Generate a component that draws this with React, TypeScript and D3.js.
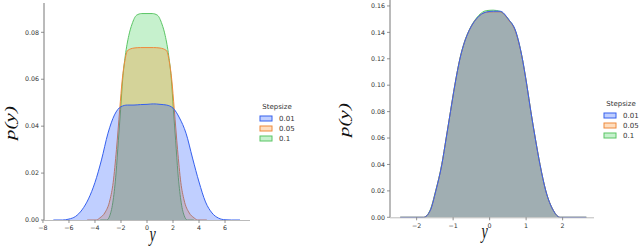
import React from "react";
import * as d3 from "d3";

// ---------- data ----------
const stepsizes = ["0.01", "0.05", "0.1"];
const colors = ["#023eff", "#ff7c00", "#1ac938"];
const strokeColors = ["#3560ee", "#ee8a3c", "#5bc565"];

// left panel
const leftX01 = [-7.2, -6.5, -6, -5.5, -5, -4.5, -4, -3.5, -3, -2.5, -2, -1.5, -1, -0.5, 0, 0.5, 1, 1.5, 2, 2.5, 3, 3.5, 4, 4.5, 5, 5.5, 6, 6.5, 7.15];
const leftY01 = [0, 0, 0.0004, 0.0015, 0.0043, 0.009, 0.016, 0.0256, 0.037, 0.0448, 0.0483, 0.049, 0.049, 0.0492, 0.0493, 0.0495, 0.0493, 0.049, 0.0477, 0.0435, 0.037, 0.0264, 0.0162, 0.0077, 0.003, 0.0008, 0.0001, 0, 0];
const leftX05 = [-4.6, -3.9, -3.6, -3.25, -2.85, -2.6, -2.35, -2.1, -1.9, -1.7, -1.5, -1.0, -0.5, 0, 0.5, 1.0, 1.5, 1.7, 1.9, 2.1, 2.35, 2.6, 2.85, 3.25, 3.6, 3.9, 4.6];
const leftY05 = [0, 0, 0.001, 0.003, 0.0085, 0.016, 0.03, 0.047, 0.06, 0.068, 0.0722, 0.0733, 0.0735, 0.0735, 0.0735, 0.0733, 0.0722, 0.068, 0.06, 0.047, 0.03, 0.016, 0.0085, 0.003, 0.001, 0, 0];
const leftX1 = [-3.6, -3.1, -2.85, -2.6, -2.38, -2.2, -2.03, -1.87, -1.67, -1.4, -1.15, -0.8, -0.4, 0, 0.4, 0.8, 1.15, 1.4, 1.67, 1.87, 2.03, 2.2, 2.38, 2.6, 2.85, 3.1, 3.6];
const leftY1 = [0, 0, 0.002, 0.0085, 0.02, 0.034, 0.047, 0.06, 0.07, 0.0786, 0.0835, 0.0873, 0.088, 0.088, 0.088, 0.0873, 0.0835, 0.0786, 0.07, 0.06, 0.047, 0.034, 0.02, 0.0085, 0.002, 0, 0];

// right panel
const rightX = [-2.45, -1.81, -1.63, -1.475, -1.31, -1.19, -1.073, -0.954, -0.81, -0.69, -0.56, -0.37, -0.08, 0.1, 0.29, 0.515, 0.72, 0.88, 1.02, 1.13, 1.25, 1.38, 1.54, 1.75, 1.93, 2.65];
const rightY01 = [0, 0, 0.005, 0.02, 0.04, 0.06, 0.08, 0.1, 0.1205, 0.1325, 0.1415, 0.15, 0.1555, 0.156, 0.156, 0.15, 0.1405, 0.1225, 0.1, 0.08, 0.06, 0.04, 0.02, 0.005, 0, 0];
const rightY05 = [0, 0, 0.005, 0.02, 0.04, 0.06, 0.08, 0.1, 0.1205, 0.1325, 0.1415, 0.15, 0.1552, 0.1555, 0.1555, 0.1495, 0.1398, 0.1222, 0.1, 0.08, 0.06, 0.04, 0.02, 0.005, 0, 0];
const rightY1 = [0, 0, 0.0055, 0.0205, 0.0402, 0.06, 0.08, 0.1, 0.1207, 0.1327, 0.1418, 0.1505, 0.1565, 0.1568, 0.1558, 0.15, 0.1402, 0.1225, 0.1, 0.08, 0.06, 0.04, 0.02, 0.005, 0, 0];

const leftXTicks = [-8, -6, -4, -2, 0, 2, 4, 6];
const leftYTicks = [0, 0.02, 0.04, 0.06, 0.08];
const rightXTicks = [-2, -1, 0, 1, 2];
const rightYTicks = [0, 0.02, 0.04, 0.06, 0.08, 0.1, 0.12, 0.14, 0.16];

type Series = { x: number[]; y: number[] };

const SERIF = "'Liberation Serif', 'DejaVu Serif', serif";
const SANS = "'DejaVu Sans', sans-serif";

function Panel(props: {
  series: Series[];
  xDomain: [number, number];
  yDomain: [number, number];
  xRange: [number, number];
  yRange: [number, number];
  xTicks: number[];
  yTicks: number[];
  xFmt: (v: number) => string;
  legendX: number;
  legendY: number;
  ylabelX: number;
  ylabelY: number;
  xlabelDx: number;
  xlabelY: number;
  tickDy: number;
}) {
  const x = d3.scaleLinear().domain(props.xDomain).range(props.xRange);
  const y = d3.scaleLinear().domain(props.yDomain).range(props.yRange);
  const x0 = props.xRange[0];
  const y0 = y(0);
  const order = [2, 1, 0];
  return (
    <g>
      {order.map((i) => {
        const s = props.series[i];
        const pts = s.x.map((v, k) => [v, s.y[k]] as [number, number]);
        const area = d3
          .area<[number, number]>()
          .x((d) => x(d[0]))
          .y0(y0)
          .y1((d) => y(d[1]))
          .curve(d3.curveMonotoneX)(pts);
        const line = d3
          .line<[number, number]>()
          .x((d) => x(d[0]))
          .y((d) => y(d[1]))
          .curve(d3.curveMonotoneX)(pts);
        return (
          <g key={i}>
            <path d={area || ""} fill={colors[i]} fillOpacity={0.25} />
            <path d={line || ""} fill="none" stroke={strokeColors[i]} strokeWidth={1} />
          </g>
        );
      })}
      {/* spines */}
      <line x1={x0} x2={x0} y1={props.yRange[1]} y2={y0} stroke="#777" strokeWidth={1} />
      <line x1={x0} x2={props.xRange[1]} y1={y0 + 0.5} y2={y0 + 0.5} stroke="#bbb" strokeWidth={1} />
      {props.yTicks.map((t) => (
        <g key={"y" + t}>
          <line x1={x0 - 3} x2={x0} y1={y(t)} y2={y(t)} stroke="#777" strokeWidth={0.8} />
          <text x={x0 - 5} y={y(t)} dy="0.35em" textAnchor="end" fontSize={6.3} fill="#333" fontFamily={SANS}>
            {t.toFixed(2)}
          </text>
        </g>
      ))}
      {props.xTicks.map((t) => (
        <g key={"x" + t}>
          <line x1={x(t)} x2={x(t)} y1={y0} y2={y0 + 3} stroke="#777" strokeWidth={0.8} />
          <text x={x(t)} y={y0 + props.tickDy} textAnchor="middle" fontSize={6.3} fill="#333" fontFamily={SANS}>
            {props.xFmt(t)}
          </text>
        </g>
      ))}
      <text
        x={0}
        y={0}
        transform={`translate(${props.ylabelX},${props.ylabelY}) scale(0.67,1) rotate(-90)`}
        textAnchor="middle"
        fontSize={21}
        fontStyle="italic"
        fontFamily={SERIF}
        fill="#111"
      >
        p(y)
      </text>
      <text
        x={0}
        y={0}
        transform={`translate(${x(0) + props.xlabelDx},${props.xlabelY}) scale(0.67,1)`}
        textAnchor="middle"
        fontSize={21}
        fontStyle="italic"
        fontFamily={SERIF}
        fill="#111"
      >
        y
      </text>
      {/* legend */}
      <text x={props.legendX + 17} y={props.legendY} textAnchor="middle" fontSize={7} fill="#333" fontFamily={SANS}>
        Stepsize
      </text>
      {stepsizes.map((s, i) => (
        <g key={s}>
          <rect
            x={props.legendX}
            y={props.legendY + 7 + i * 10}
            width={12}
            height={5}
            fill={colors[i]}
            fillOpacity={0.25}
            stroke={strokeColors[i]}
            strokeWidth={1}
          />
          <text x={props.legendX + 19} y={props.legendY + 9.5 + i * 10} dy="0.35em" fontSize={7} fill="#333" fontFamily={SANS}>
            {s}
          </text>
        </g>
      ))}
    </g>
  );
}

export default function App() {
  const minus = (v: number) => (v < 0 ? "\u2212" + Math.abs(v) : String(v));
  return (
    <svg width={640} height={246} style={{ position: "absolute", left: 0, top: 0 }}>
      <rect width={640} height={246} fill="#fff" />
      <Panel
        series={[
          { x: leftX01, y: leftY01 },
          { x: leftX05, y: leftY05 },
          { x: leftX1, y: leftY1 },
        ]}
        xDomain={[-7.92, 7.92]}
        yDomain={[0, 0.0925]}
        xRange={[44, 250]}
        yRange={[220, 3]}
        xTicks={leftXTicks}
        yTicks={leftYTicks}
        xFmt={minus}
        legendX={260}
        legendY={109}
        ylabelX={15}
        ylabelY={123}
        xlabelDx={5.5}
        xlabelY={241}
        tickDy={10}
      />
      <Panel
        series={[
          { x: rightX, y: rightY01 },
          { x: rightX, y: rightY05 },
          { x: rightX, y: rightY1 },
        ]}
        xDomain={[-2.73, 2.86]}
        yDomain={[0, 0.1645]}
        xRange={[390, 594]}
        yRange={[217.3, 0]}
        xTicks={rightXTicks}
        yTicks={rightYTicks}
        xFmt={minus}
        legendX={604}
        legendY={106}
        ylabelX={349}
        ylabelY={120}
        xlabelDx={-5}
        xlabelY={238}
        tickDy={10.8}
      />
    </svg>
  );
}
